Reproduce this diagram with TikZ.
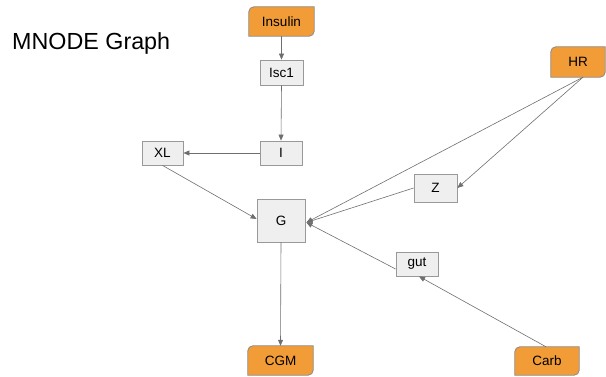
\documentclass[tikz,border=0pt]{standalone}
\usepackage{fontspec}
\setmainfont{Liberation Sans}
\usetikzlibrary{arrows.meta}
\definecolor{boxfill}{HTML}{EFEFEF}
\definecolor{boxline}{HTML}{999999}
\definecolor{orfill}{HTML}{F29C38}
\definecolor{orline}{HTML}{8A8A8A}
\definecolor{edgec}{HTML}{6E6E6E}
\tikzset{
  graybox/.style={draw=boxline, fill=boxfill, line width=0.8pt, inner sep=0pt, font=\fontsize{13.5}{15}\selectfont},
  orbox/.style={inner sep=0pt, font=\fontsize{13.5}{15}\selectfont},
  edge/.style={draw=edgec, line width=0.6pt, -{Triangle[length=6pt,width=5pt]}},
}
\newcommand{\orshape}[1]{%
  \draw[fill=orfill, draw=orline, line width=0.8pt]
    (#1.west) [rounded corners=5pt] -- (#1.north west) -- (#1.north) [sharp corners] -- (#1.north east) -- (#1.east)
    [rounded corners=5pt] -- (#1.south east) -- (#1.south) [sharp corners] -- (#1.south west) -- cycle;
  \node[orbox] at (#1) {\csname ortext#1\endcsname};}
\begin{document}
\begin{tikzpicture}[x=1pt, y=-1pt]
\useasboundingbox (0,0) rectangle (606,377);
\node[anchor=base west, inner sep=0pt, font=\fontsize{23.3}{26}\selectfont] (title) at (12,50) {MNODE Graph};
% orange nodes (shape placeholders)
\node[orbox, minimum width=65pt, minimum height=29pt] (Insulin) at (281.5,21.5) {};
\node[orbox, minimum width=54pt, minimum height=30pt] (HR) at (578,62) {};
\node[orbox, minimum width=64pt, minimum height=28pt] (Carb) at (547,361) {};
\node[orbox, minimum width=65pt, minimum height=29pt] (CGM) at (280.5,360.5) {};
\expandafter\def\csname ortextInsulin\endcsname{Insulin}
\expandafter\def\csname ortextHR\endcsname{HR}
\expandafter\def\csname ortextCarb\endcsname{Carb}
\expandafter\def\csname ortextCGM\endcsname{CGM}
\orshape{Insulin}
\orshape{HR}
\orshape{Carb}
\orshape{CGM}
% gray nodes
\node[graybox, minimum width=43pt, minimum height=25pt] (Isc1) at (281.5,72.5) {Isc1};
\node[graybox, minimum width=42pt, minimum height=24pt] (I) at (281,153) {I};
\node[graybox, minimum width=41pt, minimum height=24pt] (XL) at (162.5,153) {XL};
\node[graybox, minimum width=48pt, minimum height=43pt] (G) at (281,220.5) {G};
\node[graybox, minimum width=43pt, minimum height=28pt] (Z) at (435.5,188) {Z};
\node[graybox, minimum width=42pt, minimum height=24pt] (gut) at (417,264) {gut};
% edges
\coordinate (HRout) at ([xshift=5pt]HR.south);
\draw[edge] (Insulin.south) -- (Isc1.north);
\draw[edge] (Isc1.south) -- (I.north);
\draw[edge] (I.west) -- (XL.east);
\draw[edge] (XL.south) -- ([yshift=1.5pt]G.west);
\draw[edge] (HRout) -- ([xshift=1pt,yshift=-2pt]G.east);
\draw[edge] (HRout) -- (Z.east);
\draw[edge] (Z.west) -- ([xshift=1pt,yshift=-2pt]G.east);
\draw[edge] ([yshift=-5pt]gut.west) -- ([xshift=1pt,yshift=-2pt]G.east);
\draw[edge] ([xshift=-1pt]Carb.north) -- ([xshift=2pt]gut.south);
\draw[edge] (G.south) -- (CGM.north);
\end{tikzpicture}
\end{document}
